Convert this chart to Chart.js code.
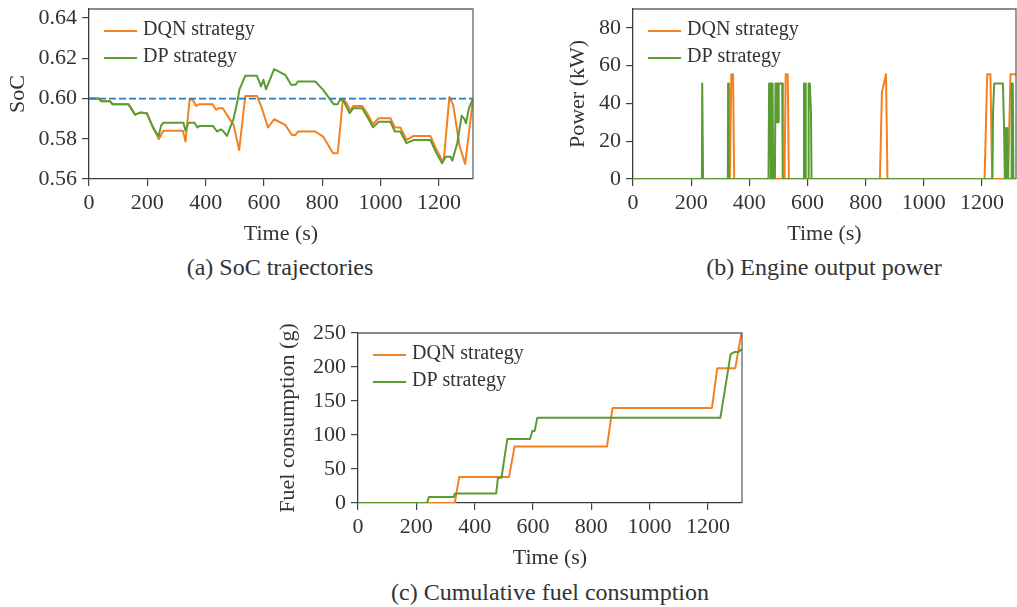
<!DOCTYPE html>
<html>
<head>
<meta charset="utf-8">
<script src="https://cdn.jsdelivr.net/npm/chart.js@4.4.1/dist/chart.umd.min.js"></script>
<style>
body { margin: 0; background: #fff; width: 1017px; height: 607px; position: relative; overflow: hidden; font-family: "Liberation Serif", "DejaVu Serif", serif; }
canvas { position: absolute; }
.caption { position: absolute; font-size: 24px; color: #333; transform: translate(-50%, -50%); white-space: nowrap; line-height: 1; }
</style>
</head>
<body>
<canvas id="socChart" width="500" height="250" style="left:0px;top:0px"></canvas>
<canvas id="powerChart" width="457" height="250" style="left:560px;top:0px"></canvas>
<canvas id="fuelChart" width="490" height="250" style="left:270px;top:324px"></canvas>
<div class="caption" style="left:280px;top:267px">(a) SoC trajectories</div>
<div class="caption" style="left:824px;top:267px">(b) Engine output power</div>
<div class="caption" style="left:550px;top:592px">(c) Cumulative fuel consumption</div>
<script>
const timeMax = 1317;
const seriesNames = ['DQN strategy', 'DP strategy'];
const dqnColor = '#f5801e';
const dpColor = '#5a9b32';

// (a) SoC
const socTimeDqn = [0, 32, 43, 72, 80, 135, 158, 175, 198, 221, 239, 247, 255, 322, 331, 345, 356, 367, 379, 423, 436, 445, 459, 473, 496, 515, 536, 576, 591, 614, 635, 673, 696, 708, 717, 776, 803, 837, 853, 871, 883, 897, 906, 937, 954, 974, 994, 1034, 1049, 1068, 1089, 1114, 1171, 1189, 1211, 1217, 1236, 1249, 1271, 1290, 1303, 1317];
const socDqn = [0.600, 0.600, 0.5987, 0.5987, 0.5972, 0.5972, 0.592, 0.593, 0.5927, 0.5852, 0.5798, 0.5819, 0.584, 0.584, 0.5786, 0.5994, 0.5994, 0.5963, 0.5972, 0.5972, 0.5944, 0.5952, 0.5952, 0.5919, 0.5869, 0.5744, 0.6013, 0.6013, 0.596, 0.5856, 0.5897, 0.5869, 0.5819, 0.5819, 0.5836, 0.5836, 0.5811, 0.5728, 0.5728, 0.600, 0.5977, 0.5939, 0.5963, 0.5963, 0.5927, 0.5872, 0.5902, 0.5902, 0.5856, 0.5856, 0.5794, 0.5814, 0.5814, 0.5753, 0.5695, 0.5698, 0.6007, 0.5968, 0.5764, 0.5675, 0.5827, 0.600];
const socTimeDp = [0, 32, 43, 72, 80, 135, 158, 175, 198, 221, 239, 247, 255, 324, 331, 341, 362, 372, 379, 425, 439, 452, 459, 473, 496, 510, 516, 536, 576, 590, 598, 607, 635, 673, 693, 708, 717, 776, 803, 839, 853, 862, 874, 894, 906, 937, 954, 974, 994, 1034, 1049, 1068, 1089, 1114, 1171, 1189, 1211, 1223, 1240, 1246, 1263, 1278, 1286, 1293, 1303, 1317];
const socDp = [0.600, 0.600, 0.5987, 0.5987, 0.5972, 0.5972, 0.592, 0.593, 0.5927, 0.5852, 0.5814, 0.5864, 0.588, 0.588, 0.584, 0.588, 0.588, 0.5856, 0.5864, 0.5864, 0.5836, 0.5847, 0.584, 0.5814, 0.590, 0.5993, 0.6046, 0.6113, 0.6113, 0.606, 0.6093, 0.6046, 0.6146, 0.6118, 0.6068, 0.6068, 0.6085, 0.6085, 0.6043, 0.5972, 0.5972, 0.5997, 0.5985, 0.5927, 0.5952, 0.5952, 0.591, 0.5857, 0.5884, 0.5884, 0.5836, 0.5836, 0.5778, 0.5794, 0.5794, 0.5736, 0.5678, 0.5711, 0.5711, 0.5691, 0.5778, 0.5914, 0.5902, 0.5877, 0.5952, 0.600];
const socReference = 0.60;

// (b) engine power
const powTimeDqn = [0, 333, 338, 344, 348, 521, 525, 532, 536, 849, 856, 870, 875, 1209, 1218, 1229, 1235, 1290, 1298, 1317];
const powDqn = [0, 0, 55.5, 55.5, 0, 0, 55.5, 55.5, 0, 0, 46, 55.5, 0, 0, 55.5, 55.5, 0, 0, 55.5, 55.5];
const powTimeDp = [0, 237, 238, 240, 241, 326, 327, 329, 330, 466, 468, 472, 474, 476, 477, 480, 482, 488, 490, 492, 494, 496, 498, 500, 501, 513, 515, 586, 588, 592, 594, 602, 604, 608, 612, 614, 1236, 1238, 1240, 1242, 1272, 1276, 1278, 1279, 1281, 1282, 1284, 1285, 1287, 1288, 1290, 1301, 1302, 1306, 1308, 1317];
const powDp = [0, 0, 50.5, 50.5, 0, 0, 50.5, 50.5, 0, 0, 50.5, 50.5, 0, 0, 50.5, 50.5, 0, 0, 50.5, 30, 50.5, 30, 50.5, 30, 50.5, 50.5, 0, 0, 50.5, 50.5, 0, 0, 50.5, 50.5, 35, 0, 0, 34.6, 34.6, 50.5, 50.5, 26.7, 0, 26, 0, 27, 0, 26, 0, 27, 0, 0, 50.5, 50.5, 0, 0];

// (c) cumulative fuel
const fuelTimeDqn = [0, 332, 347, 518, 537, 854, 873, 1214, 1232, 1294, 1315];
const fuelDqn = [0, 0, 38.4, 38.4, 83, 83, 139.8, 139.8, 198, 198, 250];
const fuelTimeDp = [0, 237, 243, 329, 332, 474, 480, 492, 512, 590, 598, 606, 615, 1243, 1278, 1291, 1305, 1317];
const fuelDp = [0, 0, 9, 9, 14, 14, 37, 37, 94, 94, 106, 106, 125.5, 125.5, 219, 222, 222, 227];

Chart.defaults.font.family = '"Liberation Serif", "DejaVu Serif", serif';
Chart.defaults.color = '#333';

function toPoints(xs, ys) {
    return xs.map((x, i) => ({x: x, y: ys[i]}));
}

// legend drawn inside the plot, top left
const insideLegend = {
    id: 'insideLegend',
    afterDatasetsDraw(chart) {
        const ctx = chart.ctx;
        const area = chart.chartArea;
        ctx.save();
        ctx.font = '20px "Liberation Serif"';
        ctx.textBaseline = 'middle';
        chart.data.datasets.filter(d => d.inLegend).forEach((d, i) => {
            const y = area.top + 22 + i * 27;
            ctx.strokeStyle = d.borderColor;
            ctx.lineWidth = 2;
            ctx.beginPath();
            ctx.moveTo(area.left + 15, y);
            ctx.lineTo(area.left + 48, y);
            ctx.stroke();
            ctx.fillStyle = '#333';
            ctx.fillText(d.label, area.left + 54, y - 1);
        });
        ctx.restore();
    }
};

// top and right spines
const frame = {
    id: 'frame',
    afterDraw(chart) {
        const ctx = chart.ctx;
        const a = chart.chartArea;
        ctx.save();
        ctx.strokeStyle = '#666';
        ctx.lineWidth = 1.3;
        ctx.beginPath();
        ctx.moveTo(a.left, a.top);
        ctx.lineTo(a.right, a.top);
        ctx.lineTo(a.right, a.bottom);
        ctx.stroke();
        ctx.restore();
    }
};

function xAxis() {
    return {
        type: 'linear', min: 0, max: timeMax,
        ticks: { stepSize: 200, includeBounds: false, autoSkip: false, maxRotation: 0, padding: 4, font: { size: 22 }, color: '#333', callback: v => v },
        grid: { drawOnChartArea: false, tickLength: 7, color: '#444', lineWidth: 1.2 },
        border: { color: '#3a3a3a', width: 1.3 },
        title: { display: true, text: 'Time (s)', font: { size: 22 }, color: '#333', padding: { top: 0, bottom: 3 } },
        afterFit: s => { s.height = 71; s.paddingLeft = 0; s.paddingRight = 0; }
    };
}

function yAxis(title, min, max, step, width, fmt) {
    return {
        min: min, max: max,
        ticks: { stepSize: step, includeBounds: false, autoSkip: false, padding: 5, font: { size: 22 }, color: '#333', callback: fmt },
        grid: { drawOnChartArea: false, tickLength: 7, color: '#444', lineWidth: 1.2 },
        border: { color: '#3a3a3a', width: 1.3 },
        title: { display: true, text: title, font: { size: 22 }, color: '#333', padding: { top: 5, bottom: 0 } },
        afterFit: s => { s.width = width; s.paddingTop = 0; s.paddingBottom = 0; }
    };
}

function line(label, xs, ys, color, order) {
    return {
        label: label, data: toPoints(xs, ys), borderColor: color, backgroundColor: color,
        borderWidth: 2, borderJoinStyle: 'round', pointRadius: 0, tension: 0, order: order, inLegend: true
    };
}

function makeChart(id, datasets, yScale, rightPad) {
    new Chart(document.getElementById(id).getContext('2d'), {
        type: 'line',
        data: { datasets: datasets },
        options: {
            responsive: false,
            animation: false,
            layout: { padding: { top: 9, right: rightPad, left: 0, bottom: 0 } },
            plugins: { legend: { display: false }, tooltip: { enabled: false } },
            scales: { x: xAxis(), y: yScale }
        },
        plugins: [insideLegend, frame]
    });
}

makeChart('socChart', [
    line(seriesNames[0], socTimeDqn, socDqn, dqnColor, 2),
    line(seriesNames[1], socTimeDp, socDp, dpColor, 1),
    { label: 'ref', data: [{x: 0, y: socReference}, {x: timeMax, y: socReference}], borderColor: '#2a7bba',
      borderWidth: 1.8, borderDash: [7, 3], pointRadius: 0, order: 0, inLegend: false }
], yAxis('SoC', 0.56, 0.6445, 0.02, 89, v => v.toFixed(2)), 27);

makeChart('powerChart', [
    line(seriesNames[0], powTimeDqn, powDqn, dqnColor, 2),
    line(seriesNames[1], powTimeDp, powDp, dpColor, 1)
], yAxis('Power (kW)', 0, 90, 20, 73, v => v), 1);

makeChart('fuelChart', [
    line(seriesNames[0], fuelTimeDqn, fuelDqn, dqnColor, 2),
    line(seriesNames[1], fuelTimeDp, fuelDp, dpColor, 1)
], yAxis('Fuel consumption (g)', 0, 250, 50, 88, v => v), 18);
</script>
</body>
</html>
